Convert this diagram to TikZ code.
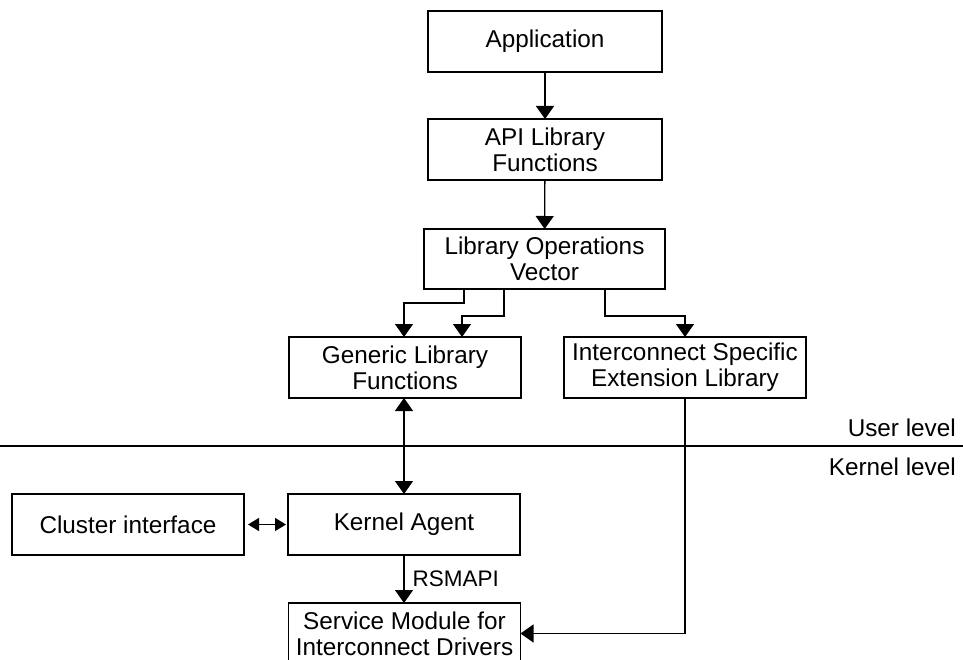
\documentclass[tikz,border=0pt]{standalone}
\usepackage{fontspec}
\setmainfont{Liberation Sans}
\usetikzlibrary{arrows.meta}
\begin{document}
\begin{tikzpicture}[x=1pt,y=-1pt,
  box/.style={draw,line width=1.3pt,inner sep=0pt,outer sep=0pt,align=center,
    font=\fontsize{24.3}{26}\selectfont},
  conn/.style={line width=1.3pt,-{Triangle[length=13pt,width=18pt]}},
  biconn/.style={line width=1.3pt,{Triangle[length=13pt,width=18pt]}-{Triangle[length=13pt,width=18pt]}},
  smallbi/.style={line width=1.3pt,{Triangle[length=11pt,width=13pt]}-{Triangle[length=11pt,width=13pt]}},
  plain/.style={line width=1.3pt},
  lbl/.style={font=\fontsize{24.3}{26}\selectfont,inner sep=0pt}]
\clip (0,0) rectangle (963,660);
\fill[white] (0,0) rectangle (963,660);

\node[box,minimum width=234pt,minimum height=61pt] (app) at (545,41.5) {Application};
\node[box,minimum width=234pt,minimum height=61pt] (api) at (545,149.5) {API Library\\Functions};
\node[box,minimum width=241pt,minimum height=60pt] (ops) at (544.5,259) {Library Operations\\Vector};
\node[box,minimum width=232pt,minimum height=61pt] (gen) at (405,367.5) {Generic Library\\Functions};
\node[box,minimum width=242pt,minimum height=61pt] (ext) at (685,367.5) {Interconnect Specific\\Extension Library};
\node[box,minimum width=232pt,minimum height=61pt] (clu) at (128,524.5) {Cluster interface};
\node[box,minimum width=232pt,minimum height=61pt] (ka) at (404,524.5) {Kernel Agent};
\node[box,minimum width=232pt,minimum height=61pt] (svc) at (404.5,633.5) {Service Module for\\Interconnect Drivers};

% level separator
\coordinate (sepL) at (0,446);
\coordinate (sepR) at (963,446);
\draw[plain] (sepL) -- (sepR);
\node[lbl,anchor=east] (user) at (956,428) {User level};
\node[lbl,anchor=east] (kern) at (956,467) {Kernel level};

% connectors
\draw[conn] (app) -- (api);
\draw[conn] (api) -- (ops);
\draw[conn] (ops.south -| 464,0) |- (404,303) -- (gen.north -| 404,0);
\draw[conn] (ops.south -| 504,0) |- (462,316) -- (gen.north -| 462,0);
\draw[conn] (ops.south -| 605,0) |- (685,316) -- (ext.north);
\draw[biconn] (gen.south -| 404,0) -- (ka.north);
\coordinate (c1) at ([xshift=4pt]clu.east);
\coordinate (c2) at ([xshift=-2pt]ka.west);
\draw[smallbi] (c1) -- (c2);
\draw[conn] (ka.south) -- (svc.north -| ka.south) node[lbl,midway,anchor=west,xshift=8pt,font=\fontsize{22.5}{24}\selectfont] (rsm) {RSMAPI};
\draw[conn] (ext.south) |- (svc.east);
\end{tikzpicture}
\end{document}
